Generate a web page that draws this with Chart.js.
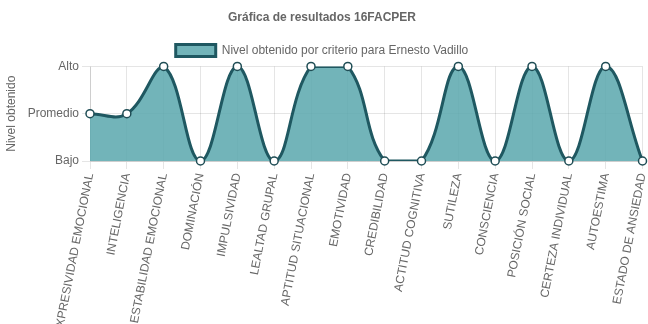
<!DOCTYPE html>
<html>
<head>
<meta charset="utf-8">
<script src="https://cdn.jsdelivr.net/npm/chart.js@4/dist/chart.umd.min.js"></script>
<style>
    html, body { margin: 0; padding: 0; background: #fff; }
    #wrap { width: 648px; height: 324px; }
</style>
</head>
<body>
<div id="wrap"><canvas id="resultados-chart"></canvas></div>
<script>
// Datos de la grafica
const criterios = [
    'EXPRESIVIDAD EMOCIONAL', 'INTELIGENCIA', 'ESTABILIDAD EMOCIONAL', 'DOMINACIÓN',
    'IMPULSIVIDAD', 'LEALTAD GRUPAL', 'APTITUD SITUACIONAL', 'EMOTIVIDAD',
    'CREDIBILIDAD', 'ACTITUD COGNITIVA', 'SUTILEZA', 'CONSCIENCIA',
    'POSICIÓN SOCIAL', 'CERTEZA INDIVIDUAL', 'AUTOESTIMA', 'ESTADO DE ANSIEDAD'
];
const niveles = ['Bajo', 'Promedio', 'Alto'];
// indice dentro de niveles
const nivelObtenido = [1, 1, 2, 0, 2, 0, 2, 2, 0, 0, 2, 0, 2, 0, 2, 0];

Chart.defaults.font.family = 'Arial, "Liberation Sans", sans-serif';
Chart.defaults.font.size = 12;
Chart.defaults.color = '#666';

const ctx = document.getElementById('resultados-chart');
const resultadosChart = new Chart(ctx, {
    type: 'line',
    data: {
        labels: criterios,
        datasets: [{
            // puntos sin recortar, encima de la linea
            label: 'puntos',
            data: nivelObtenido,
            showLine: false,
            clip: false,
            order: 0,
            pointRadius: 4,
            pointBackgroundColor: '#fff',
            pointBorderColor: '#1f4d55',
            pointBorderWidth: 1.5
        }, {
            label: 'Nivel obtenido por criterio para Ernesto Vadillo',
            data: nivelObtenido,
            fill: true,
            order: 1,
            backgroundColor: 'rgba(95, 170, 175, 0.88)',
            borderColor: '#1f5861',
            borderWidth: 3,
            tension: 0.4,
            pointRadius: 0
        }]
    },
    options: {
        responsive: true,
        maintainAspectRatio: false,
        animation: false,
        layout: { padding: { left: 0, right: 4, top: 0, bottom: 0 } },
        plugins: {
            title: {
                display: true,
                text: 'Gráfica de resultados 16FACPER',
                color: '#666',
                font: { size: 12, weight: 'bold' },
                padding: { top: 10, bottom: 12 }
            },
            legend: {
                labels: {
                    boxWidth: 40,
                    boxHeight: 12,
                    color: '#666',
                    padding: 8,
                    filter: (item) => item.datasetIndex === 1
                }
            },
            tooltip: { enabled: false }
        },
        scales: {
            x: {
                grid: { color: 'rgba(0,0,0,0.1)', tickLength: 8 },
                ticks: { minRotation: 79, maxRotation: 79, color: '#666', autoSkip: false },
                afterFit: (s) => {
                    s.height = 163;
                    s.paddingLeft = 0;
                    s.paddingRight = 0;
                }
            },
            y: {
                min: 0,
                max: 2,
                grid: { color: 'rgba(0,0,0,0.1)', tickLength: 8 },
                title: { display: true, text: 'Nivel obtenido', color: '#666' },
                ticks: {
                    stepSize: 1,
                    color: '#666',
                    callback: (v) => niveles[v]
                },
                afterFit: (s) => {
                    s.width = 90;
                    s.paddingTop = 0;
                    s.paddingBottom = 0;
                }
            }
        }
    }
});
</script>
</body>
</html>
